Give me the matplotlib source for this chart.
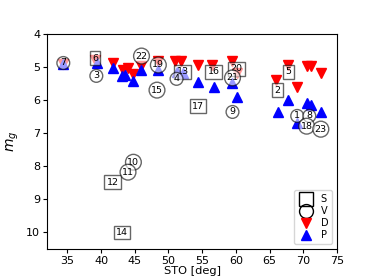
import matplotlib
matplotlib.use('Agg')
import matplotlib.pyplot as plt
from matplotlib.lines import Line2D

# S objects (squares)
s_id = ['6', '13', '16', '20', '17', '5', '2', '12', '14']
s_sto = [39.1, 52.1, 56.7, 60.1, 54.4, 67.8, 66.2, 41.7, 43.1]
s_mg = [4.73, 5.15, 5.15, 5.06, 6.18, 5.15, 5.70, 8.48, 10.0]

# V objects (circles)
v_id = ['7', '3', '22', '19', '4', '15', '21', '9', '1', '8', '18', '23', '10', '11']
v_sto = [34.4, 39.3, 46.0, 48.5, 51.2, 48.3, 59.5, 59.5, 69.1, 70.9, 70.5, 72.6, 44.8, 44.0]
v_mg = [4.88, 5.27, 4.67, 4.94, 5.36, 5.70, 5.33, 6.36, 6.48, 6.48, 6.79, 6.88, 7.88, 8.18]

# D (red, down) and P (blue, up)
d_sto = [34.4, 39.1, 41.8, 43.3, 44.0, 44.8, 46.0, 48.5, 51.0, 51.8,
         54.4, 56.5, 59.5, 60.2, 65.9, 67.8, 69.1, 70.6, 71.1, 72.6]
d_mg = [4.92, 4.78, 4.88, 5.10, 5.03, 5.20, 4.98, 4.82, 4.82, 4.82,
        4.94, 4.94, 4.82, 5.18, 5.40, 4.94, 5.60, 4.98, 4.98, 5.18]
p_sto = [34.4, 39.4, 41.8, 43.1, 43.6, 44.8, 46.0, 48.5, 51.3, 52.2,
         54.4, 56.7, 59.5, 60.2, 66.2, 67.8, 69.1, 70.6, 71.1, 72.6]
p_mg = [4.90, 4.88, 5.03, 5.28, 5.24, 5.42, 5.10, 5.09, 5.15, 5.18,
        5.45, 5.60, 5.48, 5.90, 6.36, 6.00, 6.70, 6.10, 6.15, 6.36]

fig = plt.figure(figsize=(3.74, 2.8), dpi=100)
ax = fig.add_axes([0.126, 0.111, 0.775, 0.768])

ax.plot(d_sto, d_mg, 'v', color='red', markersize=7, linestyle='none')
ax.plot(p_sto, p_mg, '^', color='blue', markersize=7, linestyle='none')

for i in range(len(s_id)):
    ax.text(s_sto[i], s_mg[i], s_id[i], fontsize=6.8, ha='center', va='center',
            bbox=dict(boxstyle='square,pad=0.25', fc='white', ec='black', alpha=0.6))
for i in range(len(v_id)):
    ax.text(v_sto[i], v_mg[i], v_id[i], fontsize=6.8, ha='center', va='center',
            bbox=dict(boxstyle='circle,pad=0.2', fc='white', ec='black', alpha=0.6))

ax.set_xlim(32, 75)
ax.set_ylim(10.5, 4)
ax.set_xticks(range(35, 80, 5))
ax.set_yticks(range(4, 11))
ax.tick_params(labelsize=8, length=3, pad=2)
ax.set_xlabel('STO [deg]', fontsize=8.2, labelpad=0)
ax.set_ylabel('$m_g$', fontsize=10, labelpad=4)

handles = [
    Line2D([], [], marker='s', mfc='none', mec='black', color='black', ls='none', markersize=10),
    Line2D([], [], marker='o', mfc='none', mec='black', color='black', ls='none', markersize=10),
    Line2D([], [], marker='v', color='red', ls='none', markersize=7),
    Line2D([], [], marker='^', color='blue', ls='none', markersize=7),
]
ax.legend(handles, ['S', 'V', 'D', 'P'], loc='lower right', fontsize=7,
          handletextpad=0.8, labelspacing=0.2, borderpad=0.4, handlelength=1.5)

fig.savefig('out.png', dpi=100)
